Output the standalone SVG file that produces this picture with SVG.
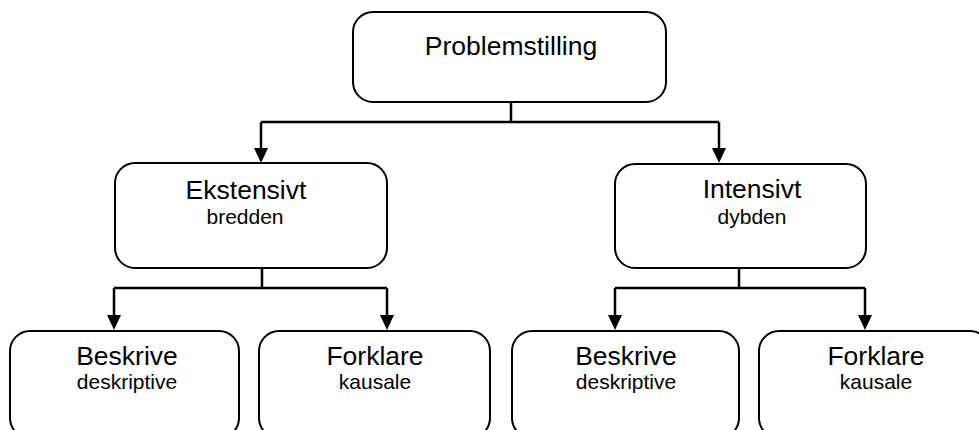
<svg xmlns="http://www.w3.org/2000/svg" width="979" height="430" viewBox="0 0 979 430">
  <style>
    .box { fill: #ffffff; stroke: #000000; stroke-width: 2; }
    .link { fill: none; stroke: #000000; stroke-width: 2.5; }
    .arrow { marker-end: url(#arrow); }
    .title { font-family: "Liberation Sans", Arial, sans-serif; font-size: 26.5px; fill: #000000; text-anchor: middle; }
    .sub { font-family: "Liberation Sans", Arial, sans-serif; font-size: 21px; fill: #000000; text-anchor: middle; }
  </style>
  <defs>
    <!-- solid triangular head, drawn pointing along +x so orient="auto" turns it down -->
    <marker id="arrow" markerUnits="userSpaceOnUse" markerWidth="15" markerHeight="14" refX="0" refY="7" orient="auto" viewBox="0 0 15 14">
      <path d="M0,0 L15,7 L0,14 Z" fill="#000000"/>
    </marker>
  </defs>
  <rect width="979" height="430" fill="#ffffff"/>

  <g id="connectors">
    <!-- root to level 1 -->
    <path class="link" d="M511,102 V122"/>
    <path class="link" d="M261,122 H719"/>
    <path class="link arrow" d="M261,122 V148"/>
    <path class="link arrow" d="M719,122 V148"/>
    <!-- Ekstensivt to its children -->
    <path class="link" d="M262,268 V288"/>
    <path class="link" d="M114,288 H387"/>
    <path class="link arrow" d="M114,288 V315"/>
    <path class="link arrow" d="M387,288 V315"/>
    <!-- Intensivt to its children -->
    <path class="link" d="M739,268 V288"/>
    <path class="link" d="M615,288 H865"/>
    <path class="link arrow" d="M615,288 V315"/>
    <path class="link arrow" d="M865,288 V315"/>
  </g>

  <g id="problemstilling">
    <rect class="box" x="353" y="12" width="313" height="90" rx="20" ry="20"/>
    <text class="title" x="511" y="55">Problemstilling</text>
  </g>

  <g id="ekstensivt">
    <rect class="box" x="115" y="163" width="272" height="105" rx="20" ry="20"/>
    <text class="title" x="246" y="199">Ekstensivt</text>
    <text class="sub" x="245" y="224">bredden</text>
  </g>

  <g id="intensivt">
    <rect class="box" x="615" y="164" width="251" height="104" rx="20" ry="20"/>
    <text class="title" x="752" y="198">Intensivt</text>
    <text class="sub" x="752" y="224">dybden</text>
  </g>

  <g id="beskrive-ekstensivt">
    <rect class="box" x="10" y="331" width="229" height="107" rx="20" ry="20"/>
    <text class="title" x="127" y="365">Beskrive</text>
    <text class="sub" x="127" y="389">deskriptive</text>
  </g>

  <g id="forklare-ekstensivt">
    <rect class="box" x="259" y="331" width="231" height="107" rx="20" ry="20"/>
    <text class="title" x="375" y="365">Forklare</text>
    <text class="sub" x="375" y="389">kausale</text>
  </g>

  <g id="beskrive-intensivt">
    <rect class="box" x="512" y="331" width="227" height="107" rx="20" ry="20"/>
    <text class="title" x="626" y="365">Beskrive</text>
    <text class="sub" x="626" y="389">deskriptive</text>
  </g>

  <g id="forklare-intensivt">
    <rect class="box" x="759" y="331" width="231" height="107" rx="20" ry="20"/>
    <text class="title" x="876" y="365">Forklare</text>
    <text class="sub" x="876" y="389">kausale</text>
  </g>
</svg>
